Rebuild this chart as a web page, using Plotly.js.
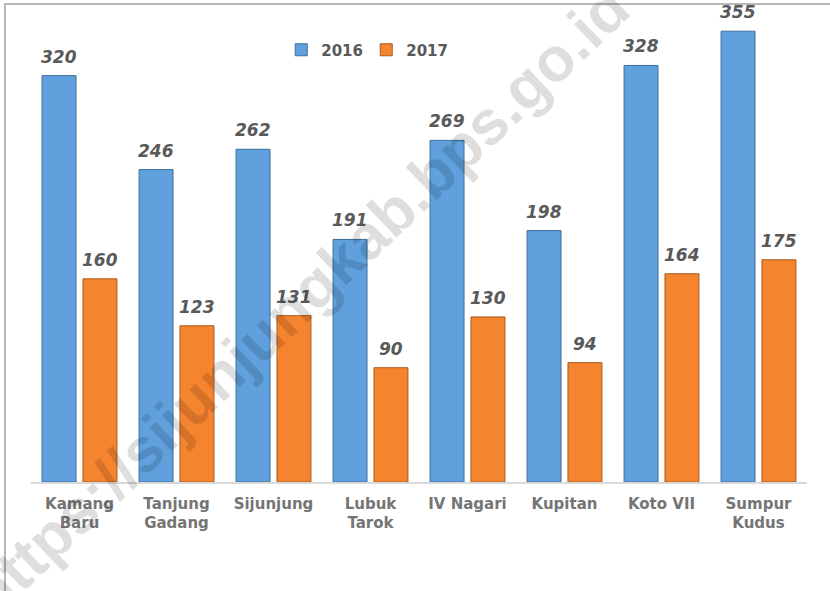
<!DOCTYPE html>
<html>
<head>
<meta charset="utf-8">
<script src="https://cdn.plot.ly/plotly-3.0.1.min.js"></script>
<style>html,body{margin:0;padding:0;background:#fff;}#chart{width:830px;height:591px;}</style>
</head>
<body>
<div id="chart"></div>
<script>
var categories = ["Kamang<br>Baru", "Tanjung<br>Gadang", "Sijunjung", "Lubuk<br>Tarok", "IV Nagari", "Kupitan", "Koto VII", "Sumpur<br>Kudus"];
var seriesNames = ["2016", "2017"];
var values2016 = [320, 246, 262, 191, 269, 198, 328, 355];
var values2017 = [160, 123, 131, 90, 130, 94, 164, 175];
var watermarkText = "https://sijunjungkab.bps.go.id";

var labelFont = {family: "DejaVu Sans", size: 17, color: "#595959", weight: "bold", style: "italic"};

var traces = [
  {type: "bar", name: seriesNames[0], x: categories, y: values2016,
   marker: {color: "#5fa0dd", line: {color: "#3d6f9c", width: 1}}, hoverinfo: "none"},
  {type: "bar", name: seriesNames[1], x: categories, y: values2017,
   marker: {color: "#f5842f", line: {color: "#a85a1f", width: 1}}, hoverinfo: "none"}
];

var annotations = [];
function addLabels(vals, shift) {
  for (var i = 0; i < vals.length; i++) {
    annotations.push({x: categories[i], y: vals[i], xref: "x", yref: "y", text: String(vals[i]),
      showarrow: false, xanchor: "center", yanchor: "bottom", xshift: shift, yshift: 7, font: labelFont});
  }
}
addLabels(values2016, -20.5);
addLabels(values2017, 20.5);

annotations.push({x: 0.346, y: 0.392, xref: "paper", yref: "paper", text: watermarkText, showarrow: false,
  textangle: -43.5, xanchor: "center", yanchor: "middle",
  font: {family: "Liberation Sans", size: 62, color: "rgba(0,0,0,0.13)", weight: "bold"}});

var layout = {
  width: 830, height: 591,
  margin: {l: 31, r: 23, t: 20, b: 109, pad: 0},
  paper_bgcolor: "#ffffff", plot_bgcolor: "#ffffff",
  barmode: "group", bargap: 0.156, bargroupgap: 0.17,
  showlegend: true,
  legend: {orientation: "h", x: 0.432, y: 0.935, xanchor: "center", yanchor: "middle",
    entrywidth: 40, entrywidthmode: "pixels",
    font: {family: "DejaVu Sans", size: 15, color: "#595959", weight: "bold"}, bgcolor: "rgba(0,0,0,0)"},
  xaxis: {showline: true, linecolor: "#d9d9d9", linewidth: 1.5, ticks: "", showgrid: false, zeroline: false,
    tickfont: {family: "DejaVu Sans", size: 15, color: "#757575", weight: "bold"}, ticklabelstandoff: 7, fixedrange: true},
  yaxis: {range: [0, 363.8], visible: false, showgrid: false, zeroline: false, fixedrange: true},
  shapes: [{type: "rect", xref: "paper", yref: "paper", x0: -0.0335, x1: 1.2, y0: -0.5, y1: 1.0346,
    line: {color: "#a0a0a0", width: 1.5}, fillcolor: "rgba(0,0,0,0)", layer: "below"}],
  annotations: annotations
};

Plotly.newPlot("chart", traces, layout, {displayModeBar: false, staticPlot: true});
</script>
</body>
</html>
